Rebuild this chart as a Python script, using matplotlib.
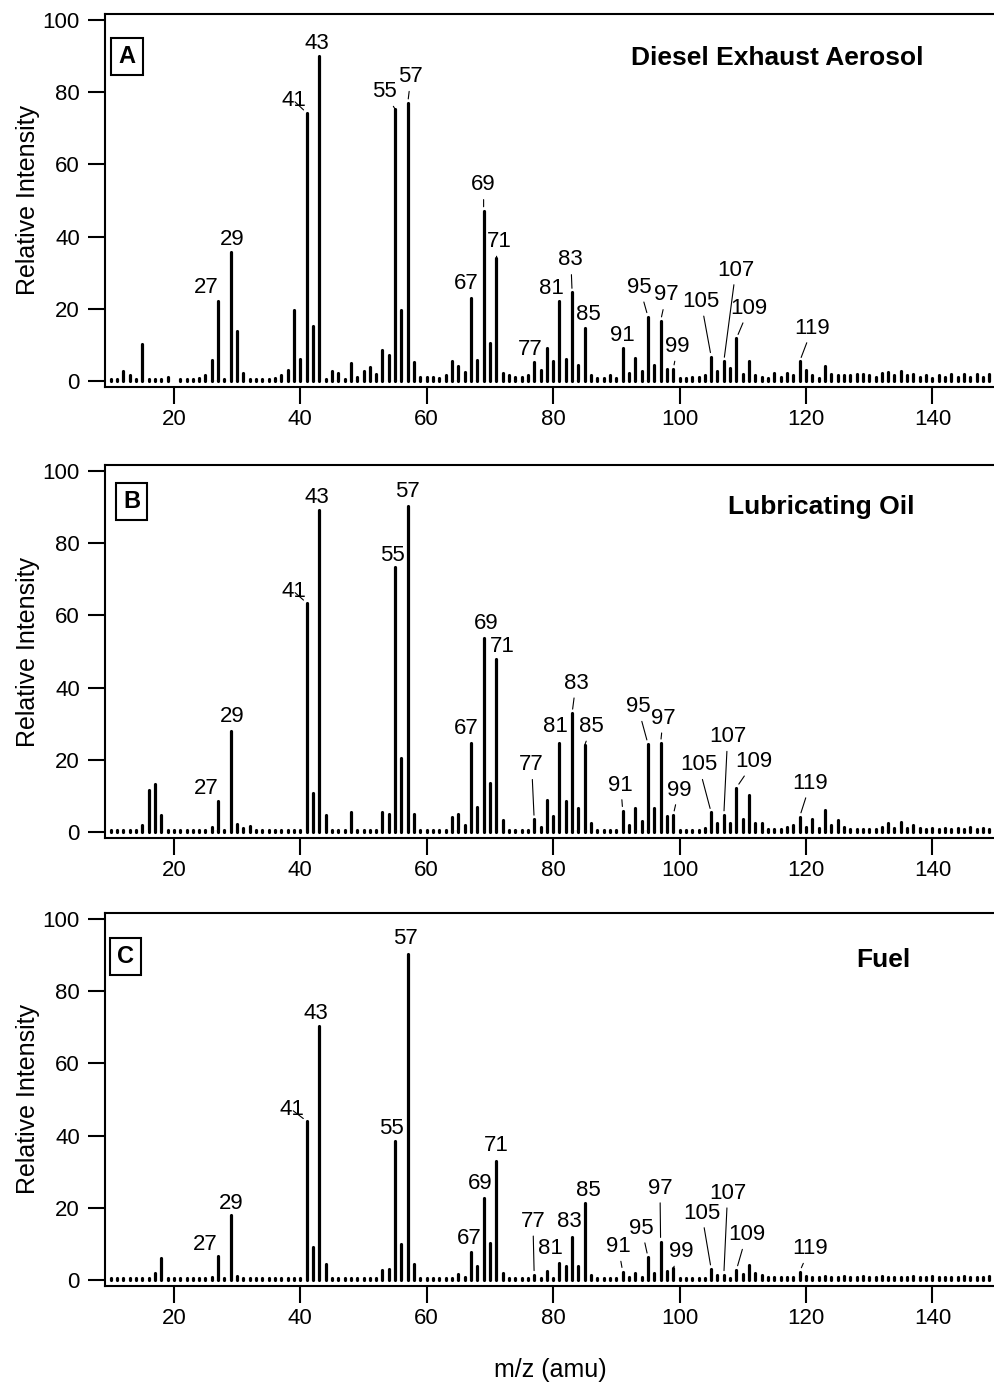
import numpy as np
import matplotlib
matplotlib.use('Agg')
import matplotlib.pyplot as plt

plt.rcParams['font.family'] = ['Liberation Sans', 'DejaVu Sans']

# m/z axis (10 .. 149)
mz = np.arange(10, 150)

# Panel A - Diesel Exhaust Aerosol (relative intensity per m/z)
diesel = [
    0.6, 0.6, 2.8, 1.5, 0.6, 10.2, 0.6, 0.6, 0.6, 1.2,          # 10-19
    np.nan, 0.6, 0.6, 0.6, 0.9, 1.5, 5.8, 22.2, 0.6, 35.8,      # 20-29
    13.9, 2.1, 0.6, 0.6, 0.6, 0.6, 0.8, 1.7, 3.0, 19.7,         # 30-39
    6.0, 74.3, 15.2, 90.0, 0.6, 2.8, 2.1, 0.6, 4.9, 1.0,        # 40-49
    2.8, 3.8, 2.0, 8.6, 7.2, 75.3, 19.7, 77.0, 5.2, 1.0,        # 50-59
    1.0, 1.0, 0.8, 1.5, 5.4, 4.0, 2.4, 23.1, 5.8, 47.1,         # 60-69
    10.6, 34.0, 2.1, 1.7, 1.0, 1.0, 1.5, 5.2, 3.0, 9.2,         # 70-79
    5.5, 22.2, 6.1, 24.5, 4.4, 14.6, 1.7, 0.7, 0.7, 1.5,        # 80-89
    0.7, 9.2, 2.1, 6.3, 2.6, 17.8, 4.4, 16.6, 3.2, 3.3,         # 90-99
    0.7, 0.8, 1.0, 1.0, 1.5, 6.7, 2.8, 5.4, 3.5, 11.8,          # 100-109
    1.8, 5.4, 1.7, 1.2, 0.7, 2.3, 1.2, 2.1, 1.7, 5.4,           # 110-119
    3.0, 1.5, 0.7, 4.2, 1.8, 1.5, 1.5, 1.5, 2.0, 2.0,           # 120-129
    1.5, 1.2, 2.3, 2.5, 1.5, 2.6, 1.5, 1.8, 1.0, 1.5,           # 130-139
    0.7, 1.7, 1.2, 2.0, 1.0, 1.8, 1.0, 2.0, 1.0, 2.0,           # 140-149
]

# Panel B - Lubricating Oil
lube = [
    0.6, 0.6, 0.6, 0.6, 0.6, 1.8, 11.6, 13.3, 4.7, 0.6,         # 10-19
    0.6, 0.6, 0.6, 0.6, 0.6, 0.6, 1.5, 8.7, 0.6, 28.0,          # 20-29
    2.2, 1.0, 1.7, 0.6, 0.6, 0.6, 0.6, 0.6, 0.6, 0.6,           # 30-39
    0.6, 63.5, 10.7, 89.2, 4.7, 0.6, 0.6, 0.6, 5.4, 0.6,        # 40-49
    0.6, 0.6, 0.6, 5.6, 5.0, 73.5, 20.4, 90.3, 5.0, 0.6,        # 50-59
    0.6, 0.6, 0.6, 0.6, 4.2, 5.0, 1.9, 24.6, 7.0, 53.8,         # 60-69
    13.7, 47.8, 3.3, 0.6, 0.6, 0.6, 0.6, 3.5, 1.5, 8.9,         # 70-79
    4.4, 24.6, 8.7, 32.9, 6.6, 24.1, 2.4, 0.6, 0.6, 0.6,        # 80-89
    0.6, 5.9, 1.9, 6.6, 3.1, 24.4, 6.6, 24.6, 4.4, 4.7,         # 90-99
    0.6, 0.6, 0.6, 0.6, 1.2, 5.4, 2.4, 4.7, 2.4, 12.3,          # 100-109
    3.5, 10.2, 2.4, 2.4, 0.8, 0.8, 0.8, 1.5, 1.8, 4.2,          # 110-119
    1.5, 3.5, 1.2, 6.0, 1.8, 3.3, 1.5, 0.8, 0.8, 0.8,           # 120-129
    0.8, 0.8, 1.5, 2.5, 1.2, 2.8, 1.2, 2.0, 1.2, 0.8,           # 130-139
    1.2, 0.8, 1.2, 0.8, 1.2, 0.8, 1.5, 0.8, 1.2, 0.8,           # 140-149
]

# Panel C - Fuel
fuel = [
    0.6, 0.6, 0.6, 0.6, 0.6, 0.6, 0.6, 1.8, 6.0, 0.6,           # 10-19
    0.6, 0.6, 0.6, 0.6, 0.6, 0.6, 0.8, 6.5, 0.6, 18.0,          # 20-29
    1.0, 0.6, 0.6, 0.6, 0.6, 0.6, 0.6, 0.6, 0.6, 0.6,           # 30-39
    0.6, 44.0, 9.2, 70.4, 4.3, 0.6, 0.6, 0.6, 0.6, 0.6,         # 40-49
    0.6, 0.6, 0.6, 2.8, 3.0, 38.5, 10.0, 90.2, 4.3, 0.6,        # 50-59
    0.6, 0.6, 0.6, 0.6, 0.6, 1.6, 0.9, 7.8, 3.7, 22.6,          # 60-69
    10.2, 33.0, 2.0, 0.6, 0.6, 0.6, 0.6, 1.4, 0.6, 2.5,         # 70-79
    0.6, 4.8, 3.7, 11.8, 3.9, 21.2, 1.4, 0.6, 0.6, 0.6,         # 80-89
    0.6, 2.3, 0.9, 2.0, 0.9, 6.3, 1.8, 10.6, 2.5, 3.2,          # 90-99
    0.6, 0.6, 0.6, 0.6, 0.6, 3.0, 1.3, 1.4, 0.6, 2.8,           # 100-109
    1.6, 4.2, 1.8, 1.4, 0.7, 0.7, 0.7, 0.7, 0.7, 2.3,           # 110-119
    1.2, 0.7, 0.7, 1.0, 0.7, 0.7, 1.0, 0.7, 0.7, 1.0,           # 120-129
    0.7, 0.7, 1.0, 0.7, 0.7, 0.7, 0.7, 1.0, 0.7, 0.7,           # 130-139
    1.0, 0.7, 0.7, 0.7, 0.7, 1.0, 0.7, 0.7, 0.7, 1.0,           # 140-149
]

peaks = [27, 29, 41, 43, 55, 57, 67, 69, 71, 77, 81, 83, 85, 91, 95, 97, 99,
         105, 107, 109, 119]

# label text position (x in amu, y in intensity) and whether a leader line is drawn
lab_A = [(25.2, 25.8, 0), (29.2, 39.3, 0), (39.0, 77.6, 1), (42.7, 93.5, 0),
         (53.3, 80.1, 1), (57.5, 84.3, 1), (66.2, 27.1, 0), (69.0, 54.3, 1),
         (71.5, 38.6, 1), (76.4, 8.6, 0), (79.8, 25.7, 0), (82.8, 33.5, 1),
         (85.5, 18.3, 0), (91.0, 12.7, 0), (93.7, 25.9, 1), (97.9, 23.8, 1),
         (99.7, 9.5, 1), (103.4, 22.0, 1), (108.9, 30.7, 1), (111.0, 20.1, 1),
         (121.0, 14.6, 1)]
lab_B = [(25.2, 12.1, 0), (29.2, 31.9, 0), (39.0, 66.6, 1), (42.7, 92.7, 0),
         (54.5, 76.7, 0), (56.9, 94.3, 0), (66.2, 28.7, 0), (69.4, 57.8, 0),
         (71.9, 51.3, 0), (76.6, 18.6, 1), (80.3, 29.2, 0), (83.6, 41.2, 1),
         (86.1, 29.2, 1), (90.7, 13.0, 1), (93.4, 34.7, 1), (97.4, 31.5, 1),
         (99.9, 11.6, 1), (103.0, 18.6, 1), (107.6, 26.4, 1), (111.8, 19.5, 1),
         (120.7, 13.5, 1)]
lab_C = [(25.0, 9.7, 0), (29.0, 21.2, 0), (38.7, 47.1, 1), (42.4, 73.9, 0),
         (54.4, 42.0, 0), (56.7, 94.7, 0), (66.8, 11.5, 0), (68.5, 26.8, 0),
         (71.0, 37.2, 0), (76.8, 16.2, 1), (79.6, 8.8, 0), (82.6, 16.2, 0),
         (85.6, 24.9, 0), (90.3, 9.2, 1), (94.0, 14.3, 1), (96.9, 25.4, 1),
         (100.2, 7.8, 1), (103.5, 18.5, 1), (107.6, 24.0, 1), (110.6, 12.5, 1),
         (120.6, 8.6, 1)]

panels = [
    ('A', 'Diesel Exhaust Aerosol', diesel, lab_A, 0.7224, (0.0247, 0.885), (0.7556, 0.863)),
    ('B', 'Lubricating Oil', lube, lab_B, 0.3988, (0.0298, 0.902), (0.805, 0.868)),
    ('C', 'Fuel', fuel, lab_C, 0.0775, (0.0230, 0.883), (0.875, 0.856)),
]

fig = plt.figure(figsize=(9.95, 13.94), dpi=100)

for letter, title, vals, labs, bottom, boxpos, titlepos in panels:
    ax = fig.add_axes([0.1055, bottom, 0.8945, 0.2676])
    vals = np.array(vals)

    # stick spectrum: thick vertical lines with round ends (gives the dots at baseline)
    ax.vlines(mz, 0, vals, colors='black', linewidth=2.3, capstyle='round')

    for m, (tx, ty, lead) in zip(peaks, labs):
        top = vals[m - 10]
        if lead:
            ax.annotate(str(m), xy=(m, top), xytext=(tx, ty), fontsize=16,
                        ha='center', va='center',
                        arrowprops=dict(arrowstyle='-', color='black', lw=0.8,
                                        shrinkA=1, shrinkB=3))
        else:
            ax.text(tx, ty, str(m), fontsize=16, ha='center', va='center')

    ax.text(boxpos[0], boxpos[1], letter, transform=ax.transAxes, fontsize=17,
            fontweight='bold', ha='center', va='center',
            bbox=dict(boxstyle='square,pad=0.3', fc='white', ec='black', lw=1.5))
    ax.text(titlepos[0], titlepos[1], title, transform=ax.transAxes, fontsize=19,
            fontweight='bold', ha='center', va='baseline')

    ax.set_xlim(9.1, 149.9)
    ax.set_ylim(-1.7, 101.7)
    ax.set_xticks(range(20, 141, 20))
    ax.set_yticks(range(0, 101, 20))
    ax.spines['right'].set_visible(False)
    for s in ['left', 'top', 'bottom']:
        ax.spines[s].set_linewidth(1.5)
    ax.tick_params(axis='both', length=12, width=1.5, labelsize=16)
    ax.tick_params(axis='y', pad=6)
    ax.tick_params(axis='x', pad=4)
    ax.set_ylabel('Relative Intensity', fontsize=18)
    ax.yaxis.set_label_coords(-0.073, 0.5)

fig.text(0.5528, 0.0172, 'm/z (amu)', fontsize=18, ha='center', va='center')

plt.savefig('out.png', dpi=100)
